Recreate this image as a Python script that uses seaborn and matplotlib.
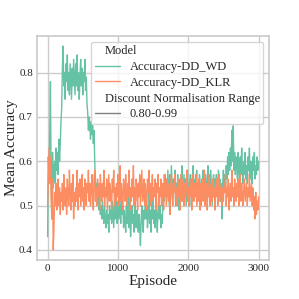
import pandas as pd
import seaborn as sns
import matplotlib.pyplot as plt
import matplotlib.offsetbox as ob

# episodes sampled every 10 steps (0 .. 3000)
episodes = list(range(0, 3001, 10))

acc_dd_wd = [
    0.43, 0.61, 0.56, 0.66, 0.78, 0.55, 0.47, 0.62, 0.54, 0.58,
    0.60, 0.55, 0.63, 0.58, 0.62, 0.57, 0.65, 0.60, 0.64, 0.69,
    0.72, 0.81, 0.86, 0.77, 0.80, 0.74, 0.82, 0.78, 0.84, 0.76,
    0.80, 0.75, 0.82, 0.78, 0.74, 0.81, 0.77, 0.83, 0.79, 0.75,
    0.82, 0.77, 0.84, 0.76, 0.80, 0.74, 0.79, 0.83, 0.77, 0.81,
    0.75, 0.80, 0.78, 0.83, 0.76, 0.79, 0.73, 0.71, 0.67, 0.70,
    0.68, 0.65, 0.69, 0.66, 0.68, 0.64, 0.67, 0.60, 0.56, 0.53,
    0.55, 0.51, 0.53, 0.49, 0.52, 0.48, 0.50, 0.47, 0.51, 0.48,
    0.46, 0.50, 0.47, 0.45, 0.49, 0.46, 0.48, 0.44, 0.50, 0.47,
    0.49, 0.46, 0.51, 0.48, 0.45, 0.50, 0.47, 0.52, 0.48, 0.46,
    0.51, 0.47, 0.53, 0.49, 0.46, 0.52, 0.48, 0.50, 0.45, 0.49,
    0.47, 0.44, 0.50, 0.46, 0.52, 0.48, 0.45, 0.49, 0.43, 0.47,
    0.50, 0.46, 0.48, 0.44, 0.51, 0.47, 0.45, 0.49, 0.46, 0.44,
    0.48, 0.45, 0.41, 0.47, 0.50, 0.46, 0.44, 0.49, 0.47, 0.52,
    0.47, 0.50, 0.45, 0.48, 0.53, 0.46, 0.49, 0.44, 0.50, 0.47,
    0.51, 0.46, 0.49, 0.45, 0.50, 0.48, 0.44, 0.49, 0.52, 0.47,
    0.50, 0.45, 0.48, 0.46, 0.52, 0.55, 0.51, 0.57, 0.53, 0.56,
    0.52, 0.58, 0.54, 0.50, 0.57, 0.53, 0.59, 0.55, 0.51, 0.56,
    0.53, 0.58, 0.50, 0.55, 0.52, 0.57, 0.54, 0.49, 0.56, 0.52,
    0.55, 0.59, 0.51, 0.54, 0.57, 0.52, 0.56, 0.50, 0.54, 0.58,
    0.52, 0.55, 0.50, 0.57, 0.53, 0.56, 0.51, 0.59, 0.54, 0.52,
    0.56, 0.53, 0.58, 0.51, 0.55, 0.52, 0.57, 0.54, 0.50, 0.56,
    0.53, 0.58, 0.52, 0.55, 0.50, 0.57, 0.54, 0.51, 0.59, 0.53,
    0.56, 0.52, 0.58, 0.54, 0.50, 0.55, 0.57, 0.52, 0.56, 0.53,
    0.57, 0.52, 0.55, 0.58, 0.53, 0.56, 0.51, 0.54, 0.47, 0.55,
    0.58, 0.54, 0.57, 0.53, 0.59, 0.56, 0.61, 0.57, 0.62, 0.58,
    0.63, 0.59, 0.67, 0.60, 0.68, 0.58, 0.62, 0.57, 0.61, 0.59,
    0.56, 0.62, 0.58, 0.55, 0.61, 0.57, 0.63, 0.58, 0.55, 0.60,
    0.57, 0.62, 0.56, 0.59, 0.55, 0.61, 0.58, 0.63, 0.56, 0.60,
    0.57, 0.55, 0.61, 0.58, 0.62, 0.56, 0.59, 0.57, 0.61, 0.58,
    0.60,
]

acc_dd_klr = [
    0.50, 0.57, 0.63, 0.55, 0.61, 0.52, 0.47, 0.56, 0.40, 0.45,
    0.53, 0.50, 0.55, 0.49, 0.52, 0.56, 0.50, 0.54, 0.48, 0.53,
    0.51, 0.55, 0.49, 0.57, 0.52, 0.50, 0.54, 0.48, 0.56, 0.52,
    0.50, 0.58, 0.53, 0.49, 0.55, 0.51, 0.57, 0.47, 0.53, 0.50,
    0.54, 0.51, 0.58, 0.49, 0.55, 0.52, 0.56, 0.50, 0.53, 0.57,
    0.51, 0.54, 0.49, 0.56, 0.52, 0.50, 0.55, 0.53, 0.58, 0.51,
    0.55, 0.50, 0.53, 0.57, 0.52, 0.49, 0.56, 0.58, 0.51, 0.54,
    0.50, 0.56, 0.52, 0.55, 0.49, 0.57, 0.53, 0.51, 0.55, 0.52,
    0.58, 0.50, 0.54, 0.52, 0.56, 0.49, 0.53, 0.57, 0.51, 0.55,
    0.52, 0.49, 0.56, 0.53, 0.58, 0.50, 0.54, 0.51, 0.55, 0.52,
    0.57, 0.50, 0.54, 0.59, 0.51, 0.55, 0.52, 0.49, 0.56, 0.53,
    0.51, 0.57, 0.53, 0.50, 0.55, 0.52, 0.58, 0.49, 0.54, 0.51,
    0.56, 0.52, 0.59, 0.50, 0.54, 0.51, 0.56, 0.53, 0.49, 0.55,
    0.52, 0.57, 0.50, 0.54, 0.58, 0.51, 0.53, 0.56, 0.50, 0.55,
    0.52, 0.49, 0.56, 0.53, 0.58, 0.51, 0.55, 0.50, 0.54, 0.57,
    0.51, 0.54, 0.52, 0.56, 0.49, 0.55, 0.53, 0.57, 0.50, 0.54,
    0.52, 0.56, 0.50, 0.55, 0.53, 0.49, 0.57, 0.52, 0.54, 0.50,
    0.56, 0.53, 0.51, 0.55, 0.48, 0.54, 0.57, 0.52, 0.50, 0.55,
    0.53, 0.57, 0.51, 0.54, 0.50, 0.56, 0.52, 0.55, 0.49, 0.54,
    0.57, 0.51, 0.53, 0.56, 0.50, 0.55, 0.52, 0.54, 0.58, 0.51,
    0.54, 0.50, 0.56, 0.52, 0.55, 0.49, 0.57, 0.53, 0.51, 0.55,
    0.52, 0.57, 0.50, 0.54, 0.51, 0.56, 0.53, 0.49, 0.55, 0.52,
    0.56, 0.51, 0.54, 0.58, 0.50, 0.53, 0.55, 0.49, 0.54, 0.52,
    0.57, 0.50, 0.53, 0.55, 0.51, 0.56, 0.52, 0.54, 0.49, 0.55,
    0.52, 0.56, 0.50, 0.54, 0.57, 0.51, 0.53, 0.55, 0.50, 0.54,
    0.51, 0.55, 0.53, 0.57, 0.50, 0.54, 0.52, 0.56, 0.49, 0.53,
    0.55, 0.51, 0.58, 0.52, 0.54, 0.50, 0.56, 0.53, 0.51, 0.55,
    0.52, 0.56, 0.50, 0.54, 0.57, 0.51, 0.55, 0.52, 0.50, 0.54,
    0.56, 0.51, 0.53, 0.55, 0.50, 0.54, 0.52, 0.57, 0.51, 0.53,
    0.55, 0.50, 0.54, 0.49, 0.52, 0.47, 0.53, 0.48, 0.51, 0.49,
    0.52,
]

models = ["Accuracy-DD_WD", "Accuracy-DD_KLR"]
discount_range = "0.80-0.99"
subtitles = ["Model", "Discount Normalisation Range"]

df = pd.DataFrame({
    "Episode": episodes * 2,
    "Mean Accuracy": acc_dd_wd + acc_dd_klr,
    "Model": [models[0]] * len(episodes) + [models[1]] * len(episodes),
    "Discount Normalisation Range": [discount_range] * (2 * len(episodes)),
})

sns.set_theme(style="whitegrid")
plt.rcParams["font.family"] = ["Liberation Serif", "DejaVu Serif"]

fig = plt.figure(figsize=(2.99, 2.99), dpi=100)
ax = fig.add_axes([0.124, 0.13, 0.776, 0.75])
sns.lineplot(data=df, x="Episode", y="Mean Accuracy", hue="Model",
             style="Discount Normalisation Range", palette="Set2",
             linewidth=1, ax=ax)

ax.set_xlabel("Episode", fontsize=11, labelpad=1)
ax.set_ylabel("Mean Accuracy", fontsize=11, labelpad=1)
ax.tick_params(labelsize=8, length=0, pad=3)
ax.set_xticks([0, 1000, 2000, 3000])
ax.set_yticks([0.4, 0.5, 0.6, 0.7, 0.8])

leg = ax.legend(loc="upper right", fontsize=9, borderaxespad=0.45,
                labelspacing=0.3, handlelength=2.0, borderpad=0.3)
# subtitles sit flush left, without handle space
for hp in leg.findobj(ob.HPacker):
    ch = hp.get_children()
    if len(ch) == 2 and isinstance(ch[0], ob.DrawingArea) and isinstance(ch[1], ob.TextArea):
        if ch[1].get_text() in subtitles:
            ch[0].set_width(0)
for h in leg.legend_handles:
    h.set_linewidth(1)
leg.legend_handles[-1].set_color("0.5")

plt.savefig("out.png", dpi=100)
plt.close()
